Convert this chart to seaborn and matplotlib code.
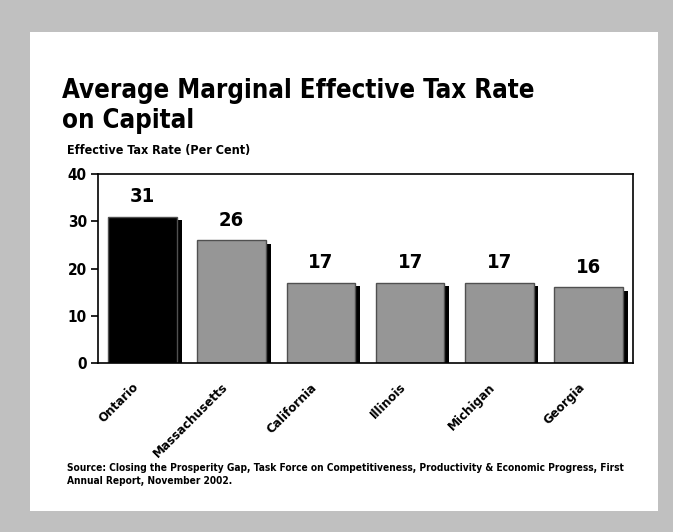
""" Average marginal effective tax rate on capital """

import pandas as pd
import matplotlib.pyplot as plt
import matplotlib.patheffects as pe
import matplotlib.transforms as mtransforms
from matplotlib.patches import Rectangle
import seaborn as sns

# Data
regions = ["Ontario", "Massachusetts", "California", "Illinois", "Michigan", "Georgia"]
tax_rate = [31, 26, 17, 17, 17, 16]
bar_colors = ["#000000", "#969696", "#969696", "#969696", "#969696", "#969696"]
y_ticks = [0, 10, 20, 30, 40]

df = pd.DataFrame({"Region": regions, "Rate": tax_rate})

sns.set_style("white")
plt.rcParams["font.family"] = ["DejaVu Sans"]
plt.rcParams["font.stretch"] = "condensed"
plt.rcParams["font.weight"] = "bold"
plt.rcParams["text.color"] = "black"
plt.rcParams["xtick.color"] = "black"
plt.rcParams["ytick.color"] = "black"

fig = plt.figure(figsize=(6.73, 5.32), dpi=100, facecolor="#c0c0c0")
# white card on the grey background
fig.patches.append(Rectangle((0.0446, 0.0395), 0.933, 0.9005, transform=fig.transFigure,
                             facecolor="white", edgecolor="none", zorder=-10))

ax = fig.add_axes([0.1456, 0.3177, 0.795, 0.355])
sns.barplot(data=df, x="Region", y="Rate", hue="Region", palette=bar_colors, legend=False,
            width=0.77, edgecolor="#505050", linewidth=1, saturation=1, ax=ax)

# black drop shadow to the right of each bar
for bar in ax.patches:
    bar.set_path_effects([pe.SimplePatchShadow(offset=(3.5, -2.5), shadow_rgbFace="black", alpha=1.0),
                          pe.Normal()])

for i, v in enumerate(tax_rate):
    ax.text(i, v + 2.2, str(v), ha="center", va="bottom", fontsize=14.5, fontweight="bold")

ax.set_facecolor("white")
ax.set_xlim(-0.5, 5.5)
ax.set_ylim(0, 40)
ax.set_yticks(y_ticks)
ax.set_yticklabels([str(t) for t in y_ticks], fontsize=11, fontweight="bold")
ax.set_xticks(range(len(regions)))
ax.set_xticklabels(regions, rotation=45, ha="right", va="center", rotation_mode="anchor",
                   fontsize=9.5, fontweight="bold")
ax.tick_params(axis="y", length=5, width=1.2, color="black", pad=3, left=True)
ax.tick_params(axis="x", length=0, pad=16)
# nudge the rotated labels a little to the left
shift = mtransforms.ScaledTranslation(-6 / 100, 0, fig.dpi_scale_trans)
for lab in ax.get_xticklabels():
    lab.set_transform(lab.get_transform() + shift)
ax.set_xlabel("")
ax.set_ylabel("")
for s in ax.spines.values():
    s.set_color("black")
    s.set_linewidth(1.2)

fig.text(0.092, 0.80, "Average Marginal Effective Tax Rate\non Capital", fontsize=18.5,
         fontweight="bold", ha="left", va="center", linespacing=1.2)
fig.text(0.1, 0.718, "Effective Tax Rate (Per Cent)", fontsize=9, fontweight="bold",
         ha="left", va="center")
fig.text(0.1, 0.108, "Source: Closing the Prosperity Gap, Task Force on Competitiveness, "
         "Productivity & Economic Progress, First\nAnnual Report, November 2002.",
         fontsize=7.3, fontweight="bold", ha="left", va="center", linespacing=1.45)

fig.savefig("out.png", dpi=100, facecolor=fig.get_facecolor())
